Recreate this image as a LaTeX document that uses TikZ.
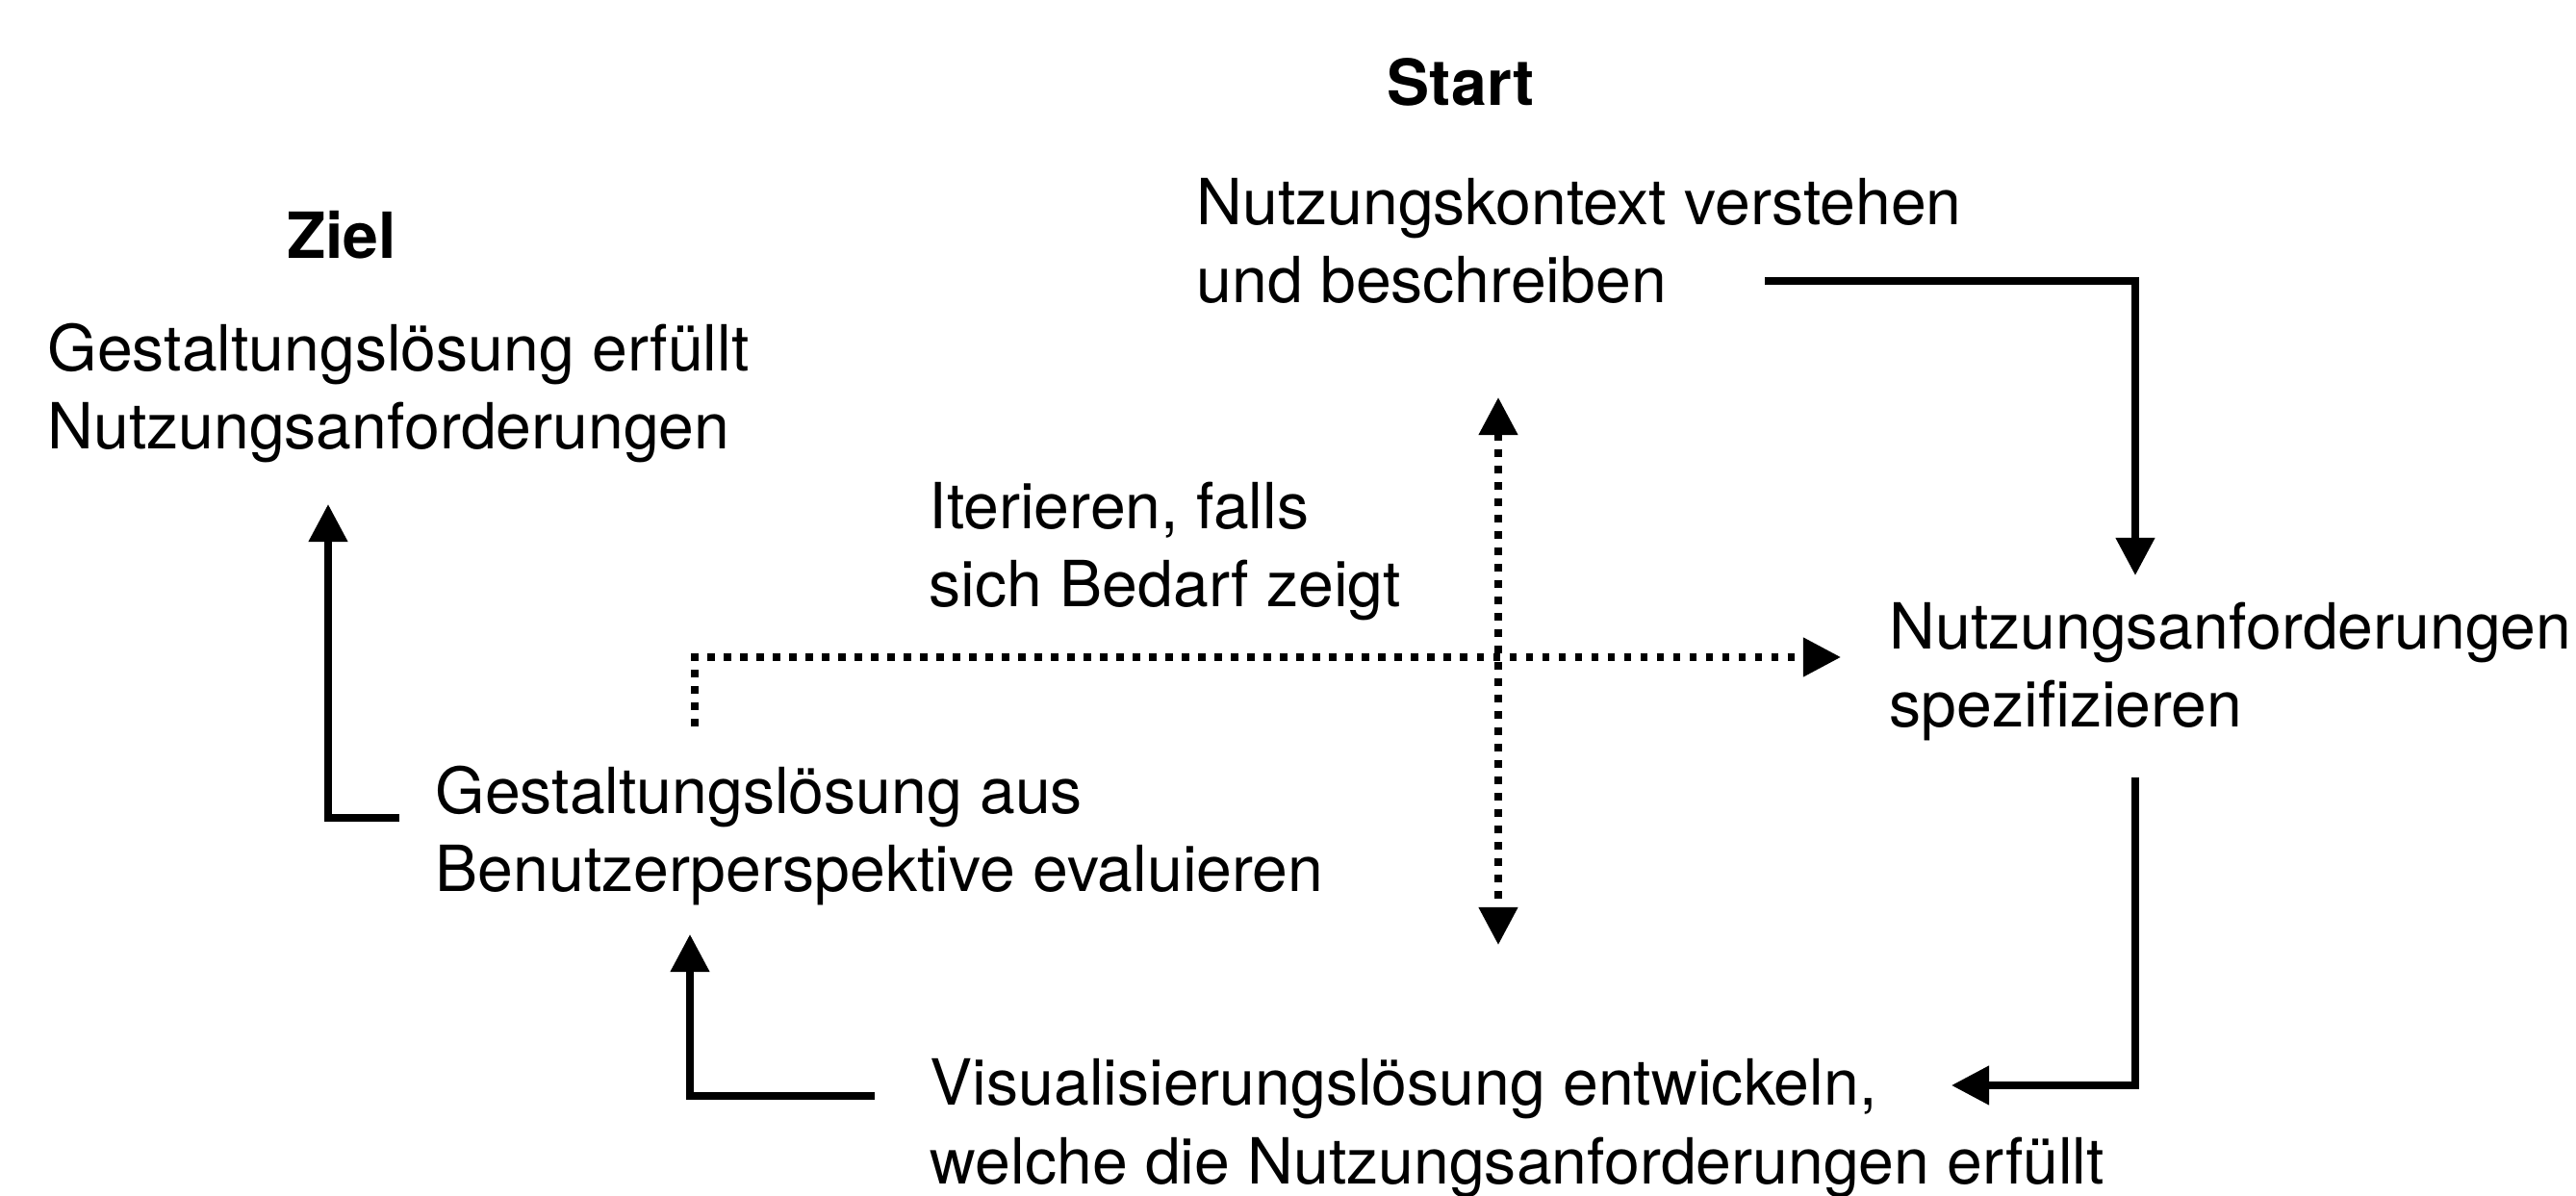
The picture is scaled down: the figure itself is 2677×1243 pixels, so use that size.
\documentclass[tikz,border=0pt]{standalone}
\usepackage{fontspec}
\setmainfont{TeX Gyre Heros}
\usetikzlibrary{arrows.meta}
\begin{document}
\begin{tikzpicture}[x=0.01cm,y=-0.01cm,
  lbl/.style={anchor=base west, inner sep=0pt, align=left, font=\fontsize{18.8}{23.05}\selectfont},
  ttl/.style={anchor=base, inner sep=0pt, font=\fontsize{18.8}{23.05}\selectfont\bfseries},
  conn/.style={line width=0.075cm, line join=miter, -{Triangle[length=0.39cm,width=0.39cm]}},
  iter/.style={line width=0.075cm, line join=miter, dash pattern=on 0.075cm off 0.095cm},
  itertip/.style={-{Triangle[length=0.39cm,width=0.39cm]}},
  itertips/.style={{Triangle[length=0.39cm,width=0.39cm]}-{Triangle[length=0.39cm,width=0.39cm]}}]
\fill[white] (0,0) rectangle (2677,1243);
\useasboundingbox (0,0) rectangle (2677,1243);

% titles
\node[ttl] (start) at (1518,110) {Start};
\node[ttl] (ziel) at (355,269) {Ziel};

% texts (anchor is the baseline of the last line)
\node[lbl] (ctx) at (1243,315) {Nutzungskontext verstehen\\und beschreiben};
\node[lbl] (goal) at (49,467) {Gestaltungslösung erfüllt\\Nutzungsanforderungen};
\node[lbl] (itlbl) at (965,631) {Iterieren, falls\\sich Bedarf zeigt};
\node[lbl] (req) at (1963,756) {Nutzungsanforderungen\\spezifizieren};
\node[lbl] (eval) at (452,927) {Gestaltungslösung aus\\Benutzerperspektive evaluieren};
\node[lbl] (dev) at (966,1230) {Visualisierungslösung entwickeln,\\welche die Nutzungsanforderungen erfüllt};

% connector end points
\coordinate (c1s) at (1834,292);
\coordinate (c1e) at (2219,598);
\coordinate (c2s) at (2219,808);
\coordinate (c2e) at (2028,1128);
\coordinate (c3s) at (909,1139);
\coordinate (c3e) at (717,971);
\coordinate (c4s) at (415,850);
\coordinate (c4e) at (341,524);
\coordinate (i1s) at (722,755);
\coordinate (i1e) at (1913,683);
\coordinate (i2s) at (1557,413);
\coordinate (i2e) at (1557,982);

% solid cycle
\draw[conn] (c1s) -| (c1e);
\draw[conn] (c2s) |- (c2e);
\draw[conn] (c3s) -| (c3e);
\draw[conn] (c4s) -| (c4e);

% iteration (dotted)
\draw[iter,itertip] (i1s) |- (i1e);
\draw[iter,itertips] (i2s) -- (i2e);
\end{tikzpicture}
\end{document}
